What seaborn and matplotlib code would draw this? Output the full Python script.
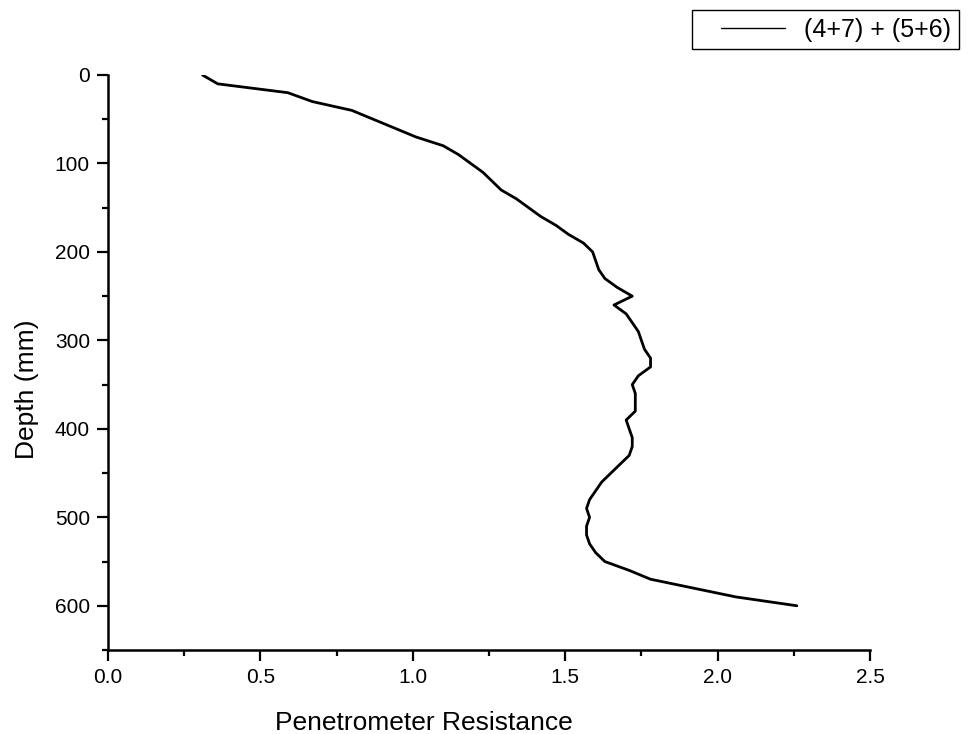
import matplotlib
matplotlib.use("Agg")
import matplotlib.pyplot as plt
import seaborn as sns
import pandas as pd
from matplotlib.ticker import MultipleLocator
from matplotlib.legend_handler import HandlerLine2D

depth = [0, 10, 20, 30, 40, 50, 60, 70, 80, 90, 100, 110, 120, 130, 140, 150, 160, 170, 180, 190,
         200, 210, 220, 230, 240, 250, 260, 270, 280, 290, 300, 310, 320, 330, 340, 350, 360, 370,
         380, 390, 400, 410, 420, 430, 440, 450, 460, 470, 480, 490, 500, 510, 520, 530, 540, 550,
         560, 570, 580, 590, 600]
resistance = [0.31, 0.36, 0.59, 0.67, 0.80, 0.87, 0.94, 1.01, 1.10, 1.15, 1.19, 1.23, 1.26, 1.29,
              1.34, 1.38, 1.42, 1.47, 1.51, 1.56, 1.59, 1.60, 1.61, 1.63, 1.67, 1.72, 1.66, 1.70,
              1.72, 1.74, 1.75, 1.76, 1.78, 1.78, 1.74, 1.72, 1.73, 1.73, 1.73, 1.70, 1.71, 1.72,
              1.72, 1.71, 1.68, 1.65, 1.62, 1.60, 1.58, 1.57, 1.58, 1.57, 1.57, 1.58, 1.60, 1.63,
              1.71, 1.78, 1.92, 2.06, 2.26]
series_name = "(4+7) + (5+6)"
x_label = "Penetrometer Resistance"
y_label = "Depth (mm)"
x_ticks = [0, 0.5, 1.0, 1.5, 2.0, 2.5]
x_ticklabels = ["0.0", "0.5", "1.0", "1.5", "2.0", "2.5"]
y_ticks = [0, 100, 200, 300, 400, 500, 600]

df = pd.DataFrame({"Resistance": resistance, "Depth": depth, "Series": series_name})

sns.set_style("ticks")
plt.rcParams["font.family"] = ["Liberation Sans", "DejaVu Sans"]
plt.rcParams["text.color"] = "black"
plt.rcParams["axes.labelcolor"] = "black"

fig = plt.figure(figsize=(9.77, 7.34), dpi=100)
ax = fig.add_axes([108 / 977, 1 - 650 / 734, (870 - 108) / 977, (650 - 75) / 734])

sns.lineplot(data=df, x="Resistance", y="Depth", sort=False, estimator=None,
             color="black", linewidth=2.0, ax=ax, legend=False)

ax.set_xlim(0, 2.5)
ax.set_ylim(650, 0)
ax.set_xticks(x_ticks)
ax.set_xticklabels(x_ticklabels)
ax.set_yticks(y_ticks)
ax.xaxis.set_minor_locator(MultipleLocator(0.25))
ax.yaxis.set_minor_locator(MultipleLocator(50))

for s in ["top", "right"]:
    ax.spines[s].set_visible(False)
for s in ["left", "bottom"]:
    ax.spines[s].set_linewidth(1.8)
    ax.spines[s].set_color("black")

ax.tick_params(axis="both", which="major", direction="out", length=8, width=1.6,
               labelsize=15, pad=5, colors="black", labelcolor="black")
ax.tick_params(axis="both", which="minor", direction="out", length=4.5, width=1.6, colors="black")

ax.set_xlabel(x_label, fontsize=19, color="black")
ax.set_ylabel(y_label, fontsize=19, color="black")
ax.xaxis.set_label_coords(0.415, -0.106)
ax.yaxis.set_label_coords(-0.090, 0.453)

handle = plt.Line2D([], [], color="black", linewidth=1.0)
leg = fig.legend([handle], [series_name], loc="upper left",
                 bbox_to_anchor=(692 / 977, 1 - 10 / 734), frameon=True, fancybox=False,
                 edgecolor="black", fontsize=18, handlelength=3.4, borderpad=0.3,
                 handletextpad=0.8, borderaxespad=0,
                 handler_map={plt.Line2D: HandlerLine2D(xpad=0.85)})
leg.get_frame().set_linewidth(1.0)
leg.get_frame().set_facecolor("white")
leg.get_frame().set_alpha(1)

fig.savefig("out.png", dpi=100, facecolor="white")
